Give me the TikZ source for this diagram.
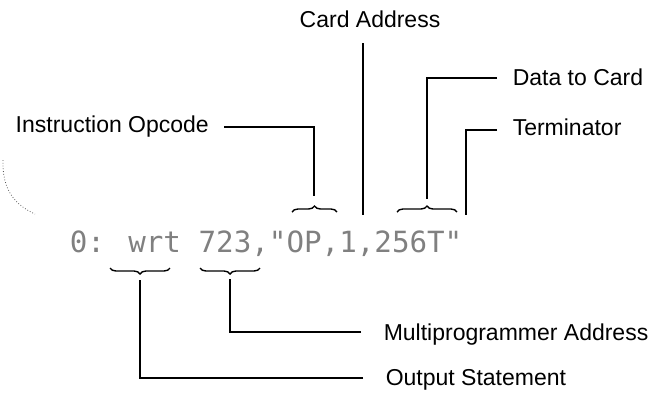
\documentclass[tikz,border=0pt]{standalone}
\usepackage{fontspec}
\setmainfont{Liberation Sans}
\newfontfamily\dotfont{DejaVu Sans Mono}
\usetikzlibrary{decorations.pathreplacing}
\begin{document}
\begin{tikzpicture}[x=1pt,y=-1pt, line width=1.5pt,
  lbl/.style={font=\fontsize{23}{26}\selectfont, inner sep=0pt},
  brc/.style={decorate, decoration={brace, amplitude=6pt}, line width=1.4pt},
  cmd/.style={font=\dotfont\fontsize{29.2}{32}\selectfont, text=black!50, inner sep=0pt}]
\useasboundingbox (0,0) rectangle (668,392);
% command line
\node[cmd, anchor=base west] (code) at (69,252) {0: wrt 723,"OP,1,256T"};
% labels
\node[lbl, anchor=base west] (opc) at (15,132) {Instruction Opcode};
\node[lbl, anchor=base] (card) at (370,27) {Card Address};
\node[lbl, anchor=base west] (data) at (512,85) {Data to Card};
\node[lbl, anchor=base west] (term) at (512,135) {Terminator};
\node[lbl, anchor=base west] (multi) at (383,340) {Multiprogrammer Address};
\node[lbl, anchor=base west] (outp) at (385,385) {Output Statement};
% braces
\draw[brc] (292,212) -- (337,212);
\draw[brc] (397,212) -- (457,212);
\draw[brc] (170,268) -- (110,268);
\draw[brc] (260,268) -- (200,268);
% connector ends
\coordinate (opTip) at (314,196);
\coordinate (dataTip) at (427,199);
\coordinate (wrtTip) at (140,280);
\coordinate (numTip) at (230,279);
\coordinate (cardTop) at (363,43);
\coordinate (cardEnd) at (363,215);
\coordinate (termEnd) at (466,215);
\coordinate (opS) at (224,127);
\coordinate (dataS) at (497,78);
\coordinate (termS) at (497,130);
\coordinate (multiS) at (361,332);
\coordinate (outS) at (363,378);
% connectors
\draw (opS) -| (opTip);
\draw (cardTop) -- (cardEnd);
\draw (dataS) -| (dataTip);
\draw (termS) -| (termEnd);
\draw (multiS) -| (numTip);
\draw (outS) -| (wrtTip);
% scan artefact arc
\draw[black!65, line width=0.8pt, dotted] (3,160) .. controls (2,190) and (15,205) .. (35,214);
\end{tikzpicture}
\end{document}
